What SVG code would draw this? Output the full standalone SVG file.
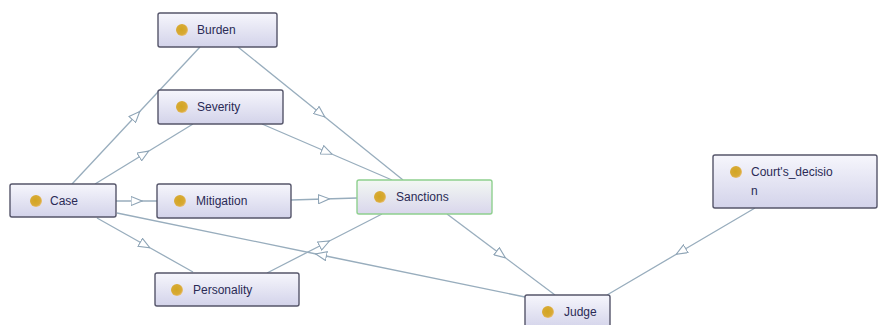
<svg xmlns="http://www.w3.org/2000/svg" width="879" height="325" viewBox="0 0 879 325">
<defs>
<linearGradient id="nodeFill" x1="0" y1="0" x2="0" y2="1">
<stop offset="0" stop-color="#f6f6fc"/>
<stop offset="1" stop-color="#d3d3ea"/>
</linearGradient>
<linearGradient id="greenFill" x1="0" y1="0" x2="0" y2="1">
<stop offset="0" stop-color="#f3f8f3"/>
<stop offset="1" stop-color="#d9d6ec"/>
</linearGradient>
<radialGradient id="dot" cx="0.45" cy="0.45" r="0.6">
<stop offset="0" stop-color="#d2a522"/>
<stop offset="0.7" stop-color="#d8aa35"/>
<stop offset="1" stop-color="#f0c890"/>
</radialGradient>
<marker id="tri" viewBox="0 0 12 10" refX="6" refY="5" markerWidth="12" markerHeight="10" markerUnits="userSpaceOnUse" orient="auto">
<path d="M0.5,0.5 L11.5,5 L0.5,9.5 z" fill="#ffffff" stroke="#8ea4b6" stroke-width="1.1"/>
</marker>
</defs>
<style>
.node rect { fill: url(#nodeFill); stroke: #55556a; stroke-width: 1.4; }
.node.sel rect { fill: url(#greenFill); stroke: #8fd08f; }
.node circle { fill: url(#dot); }
.node text { font-family: "Liberation Sans", Arial, sans-serif; font-size: 12px; fill: #2a2a55; }
.edges path { fill: none; stroke: #98adbd; stroke-width: 1.3; marker-mid: url(#tri); }
</style>
<rect width="879" height="325" fill="#ffffff"/>
<g id="connectors" class="edges">
<path d="M72,184 L136,115.5 L200,47"/>
<path d="M95,184 L144,154 L193,124"/>
<path d="M238,47 L320.5,113.5 L403,180"/>
<path d="M262,124 L327,152 L392,180"/>
<path d="M116,201 L136.5,201 L157,201"/>
<path d="M291,200 L324,199 L357,198"/>
<path d="M97,218 L145,245 L193,272"/>
<path d="M267,273 L324.5,243.5 L382,214"/>
<path d="M525,297 L321,255 L117,213"/>
<path d="M447,214 L501,254.5 L555,295"/>
<path d="M755,208 L681,251.5 L607,295"/>
</g>
<g id="node-burden" class="node">
<rect x="158" y="13" width="119" height="34" rx="2"/>
<circle cx="182" cy="30" r="6"/>
<text x="197" y="34">Burden</text>
</g>
<g id="node-severity" class="node">
<rect x="158" y="90" width="125" height="34" rx="2"/>
<circle cx="182" cy="107" r="6"/>
<text x="197" y="111">Severity</text>
</g>
<g id="node-case" class="node">
<rect x="10" y="184" width="106" height="33" rx="2"/>
<circle cx="36" cy="201" r="6"/>
<text x="50" y="205">Case</text>
</g>
<g id="node-mitigation" class="node">
<rect x="157" y="184" width="134" height="34" rx="2"/>
<circle cx="180" cy="201" r="6"/>
<text x="196" y="205">Mitigation</text>
</g>
<g id="node-personality" class="node">
<rect x="155" y="273" width="144" height="33" rx="2"/>
<circle cx="177" cy="290" r="6"/>
<text x="193" y="294">Personality</text>
</g>
<g id="node-sanctions" class="node sel">
<rect x="357" y="180" width="135" height="34" rx="2"/>
<circle cx="380" cy="197" r="6"/>
<text x="396" y="201">Sanctions</text>
</g>
<g id="node-judge" class="node">
<rect x="525" y="295" width="85" height="34" rx="2"/>
<circle cx="548" cy="312" r="6"/>
<text x="564" y="316">Judge</text>
</g>
<g id="node-courts-decision" class="node">
<rect x="713" y="155" width="164" height="53" rx="2"/>
<circle cx="736" cy="172" r="6"/>
<text x="751" y="176">Court's_decisio</text>
<text x="751" y="195">n</text>
</g>
</svg>
